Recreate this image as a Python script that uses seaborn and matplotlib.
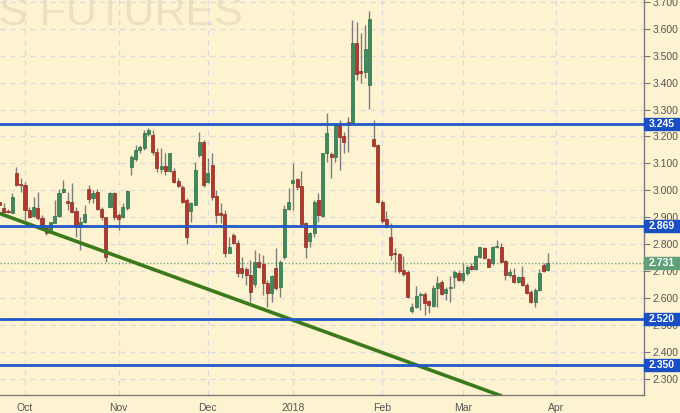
import pandas as pd
import numpy as np
import matplotlib
matplotlib.use('Agg')
import matplotlib.pyplot as plt
import matplotlib.transforms as mtransforms
from matplotlib.patches import Rectangle
import seaborn as sns

# daily candles, 22 Sep 2017 .. 29 Mar 2018 (trading days)
opens = [2.958, 2.933, 2.924, 2.917, 3.063, 3.023,
         3.020, 2.927, 2.904, 2.933, 2.896, 2.861, 2.844, 2.879, 2.904, 2.995,
         2.961, 2.958, 2.924, 2.865, 2.882, 3.004, 2.970, 2.995, 2.929, 2.899,
         2.939, 2.991, 2.908, 2.899, 2.933, 3.085, 3.118, 3.150, 3.156, 3.209,
         3.206, 3.144, 3.078, 3.090, 3.073, 3.073, 3.035, 3.014, 2.964, 2.924,
         2.945, 3.131, 3.178, 3.032, 3.094, 2.979, 2.914, 2.911, 2.768, 2.834,
         2.803, 2.710, 2.707, 2.685, 2.652, 2.735, 2.726, 2.654, 2.620, 2.710,
         2.642, 2.751, 2.929, 3.028, 3.041, 3.016, 2.877, 2.813, 2.840, 2.964,
         2.905, 3.137, 3.135, 3.125, 3.252, 3.202, 3.255, 3.252, 3.546, 3.443,
         3.441, 3.391, 3.189, 3.168, 2.958, 2.892, 2.828, 2.768, 2.763, 2.704,
         2.698, 2.552, 2.567, 2.610, 2.615, 2.589, 2.570, 2.636, 2.659, 2.619,
         2.637, 2.679, 2.694, 2.666, 2.691, 2.719, 2.706, 2.751, 2.784, 2.743,
         2.728, 2.788, 2.790, 2.736, 2.685, 2.685, 2.660, 2.679, 2.648, 2.623,
         2.586, 2.629, 2.722, 2.704]
highs = [2.962, 2.954, 2.929, 2.989, 3.085, 3.044,
         3.032, 2.939, 2.976, 2.995, 2.908, 2.871, 2.883, 2.964, 3.004, 3.038,
         2.995, 3.026, 2.939, 2.902, 2.945, 3.020, 3.001, 3.004, 2.939, 2.902,
         2.995, 2.995, 2.914, 2.952, 3.001, 3.130, 3.170, 3.170, 3.224, 3.230,
         3.224, 3.156, 3.156, 3.137, 3.140, 3.082, 3.045, 3.020, 2.970, 2.958,
         3.106, 3.218, 3.187, 3.119, 3.137, 3.001, 2.952, 2.927, 2.825, 2.840,
         2.815, 2.753, 2.716, 2.741, 2.778, 2.766, 2.760, 2.667, 2.685, 2.784,
         2.741, 2.945, 3.007, 3.100, 3.045, 3.073, 2.883, 2.846, 2.964, 2.989,
         3.140, 3.289, 3.144, 3.249, 3.261, 3.218, 3.274, 3.633, 3.627, 3.583,
         3.614, 3.666, 3.261, 3.171, 2.964, 2.924, 2.880, 2.784, 2.766, 2.756,
         2.704, 2.580, 2.644, 2.623, 2.623, 2.592, 2.648, 2.681, 2.666, 2.642,
         2.681, 2.704, 2.704, 2.728, 2.722, 2.731, 2.760, 2.790, 2.790, 2.747,
         2.794, 2.815, 2.805, 2.741, 2.706, 2.710, 2.681, 2.719, 2.654, 2.629,
         2.636, 2.706, 2.731, 2.766]
lows = [2.940, 2.914, 2.914, 2.915, 3.016, 2.995,
        2.890, 2.896, 2.902, 2.890, 2.859, 2.834, 2.840, 2.877, 2.902, 2.989,
        2.927, 2.914, 2.828, 2.778, 2.877, 2.952, 2.952, 2.927, 2.890, 2.735,
        2.939, 2.890, 2.852, 2.896, 2.927, 3.057, 3.110, 3.140, 3.150, 3.200,
        3.131, 3.069, 3.063, 3.057, 3.069, 3.026, 3.014, 2.952, 2.800, 2.883,
        2.945, 3.125, 3.014, 3.026, 2.964, 2.877, 2.877, 2.753, 2.766, 2.800,
        2.679, 2.673, 2.648, 2.586, 2.642, 2.710, 2.611, 2.567, 2.586, 2.629,
        2.605, 2.745, 2.925, 2.927, 3.001, 2.871, 2.747, 2.791, 2.828, 2.883,
        2.902, 3.106, 3.045, 3.106, 3.075, 3.137, 3.144, 3.249, 3.410, 3.400,
        3.416, 3.301, 3.162, 2.954, 2.877, 2.859, 2.741, 2.698, 2.694, 2.682,
        2.599, 2.543, 2.561, 2.555, 2.536, 2.543, 2.565, 2.567, 2.610, 2.592,
        2.586, 2.636, 2.664, 2.660, 2.685, 2.704, 2.704, 2.747, 2.745, 2.714,
        2.722, 2.784, 2.732, 2.667, 2.679, 2.657, 2.654, 2.644, 2.614, 2.582,
        2.567, 2.627, 2.697, 2.701]
closes = [2.945, 2.921, 2.918, 2.974, 3.020, 3.018,
          2.927, 2.902, 2.939, 2.896, 2.865, 2.840, 2.881, 2.904, 2.989, 3.004,
          2.954, 2.921, 2.865, 2.883, 2.912, 2.966, 2.991, 2.929, 2.899, 2.753,
          2.991, 2.902, 2.892, 2.937, 2.997, 3.123, 3.150, 3.162, 3.212, 3.224,
          3.144, 3.082, 3.090, 3.073, 3.137, 3.030, 3.017, 2.958, 2.825, 2.952,
          3.075, 3.178, 3.020, 3.063, 2.974, 2.908, 2.907, 2.766, 2.790, 2.805,
          2.691, 2.691, 2.685, 2.623, 2.735, 2.716, 2.654, 2.617, 2.681, 2.636,
          2.735, 2.929, 2.958, 3.038, 3.011, 2.875, 2.788, 2.840, 2.958, 2.908,
          3.137, 3.212, 3.125, 3.247, 3.199, 3.181, 3.249, 3.546, 3.432, 3.437,
          3.524, 3.636, 3.165, 2.958, 2.884, 2.865, 2.760, 2.762, 2.701, 2.689,
          2.605, 2.567, 2.607, 2.615, 2.580, 2.574, 2.638, 2.657, 2.614, 2.632,
          2.642, 2.697, 2.666, 2.694, 2.714, 2.706, 2.757, 2.788, 2.747, 2.716,
          2.788, 2.793, 2.735, 2.685, 2.698, 2.660, 2.679, 2.648, 2.617, 2.586,
          2.629, 2.694, 2.701, 2.731]

levels = [3.245, 2.869, 2.520, 2.350]
last_price = 2.731
trend_dates = ['2017-09-22', '2018-03-14']
trend_prices = [2.914, 2.236]

holidays = ['2017-11-23', '2017-12-25', '2018-01-01', '2018-01-15', '2018-02-19']
dates = pd.bdate_range('2017-09-22', '2018-05-31', freq='C', holidays=holidays)

bg = '#fef3d1'
red = '#b3372b'
green = '#3f8a5c'
blue = '#2358c8'

sns.set_theme(style='white', rc={'axes.facecolor': bg, 'figure.facecolor': bg})
plt.rcParams['font.family'] = ['Liberation Sans', 'DejaVu Sans']

fig = plt.figure(figsize=(6.8, 4.13), dpi=100)
ax = fig.add_axes([0, 18 / 413, 644 / 680, 395 / 413])

df = pd.DataFrame({'o': opens, 'h': highs, 'l': lows, 'c': closes})
df['x'] = np.arange(len(df))
up = df['c'] >= df['o']

ax.vlines(df['x'], df['l'], df['h'], color='#7d7d7d', lw=1, zorder=3)
body_h = (df['c'] - df['o']).abs().clip(lower=0.004)
ax.bar(df['x'], body_h, bottom=df[['o', 'c']].min(axis=1), width=0.72,
       color=np.where(up, green, red), edgecolor=np.where(up, '#2e6e46', '#8a2a20'),
       linewidth=0.5, zorder=4)

# trend line
pos = {d: k for k, d in enumerate(dates)}
tx = [pos[pd.Timestamp(d)] for d in trend_dates]
sns.lineplot(x=tx, y=trend_prices, color='#3b7a1b', lw=2.6, ax=ax, zorder=5)

for lv in levels:
    ax.axhline(lv, color=blue, lw=2, zorder=6)
ax.axhline(last_price, color='#6fa981', lw=1, ls=(0, (1, 1.5)), zorder=2)

# month ticks
month_starts = []
month_labels = []
for k in range(1, len(dates)):
    if dates[k].month != dates[k - 1].month:
        month_starts.append(k)
        month_labels.append(str(dates[k].year) if dates[k].month == 1 else dates[k].strftime('%b'))
ax.set_xticks(month_starts)
ax.set_xticklabels(month_labels)
ax.set_xlim(0.12, 151.6)
ax.set_ylim(2.239, 3.7074)
yt = np.round(np.arange(2.3, 3.75, 0.1), 1)
ax.set_yticks(yt)
ax.set_yticklabels([f'{v:.3f}' for v in yt])
ax.yaxis.tick_right()

ax.grid(True, color='#d9d9e0', lw=0.9, ls=(0, (4, 4)))
ax.tick_params(axis='both', colors='#777777', labelcolor='#555555', labelsize=7.5,
               length=4, width=0.8, pad=2)
for s in ['left', 'top']:
    ax.spines[s].set_visible(False)
for s in ['right', 'bottom']:
    ax.spines[s].set_color('#7a7a7a')
    ax.spines[s].set_linewidth(1)

# price labels on the right axis
trans = mtransforms.blended_transform_factory(ax.transAxes, ax.transData)
box_w = 680 / 644 - 1
box_h = 12 / 269
for lv, col in [(v, '#1a4fc4') for v in levels] + [(last_price, '#62a07a')]:
    ax.add_patch(Rectangle((1.0, lv - box_h / 2), box_w, box_h, transform=trans,
                           color=col, clip_on=False, zorder=7))
    ax.text(1.0 + box_w / 2, lv, f'{lv:.3f}', transform=trans, color='white',
            fontsize=7.5, fontweight='bold', ha='center', va='center', zorder=8,
            clip_on=False)

# watermark
ax.text(243 / 644, 1 - 25 / 395, 'NATURAL GAS FUTURES', transform=ax.transAxes,
        ha='right', va='baseline', fontsize=31, color='#ebe0c1', zorder=0)

fig.savefig('out.png', dpi=100, facecolor=bg)
